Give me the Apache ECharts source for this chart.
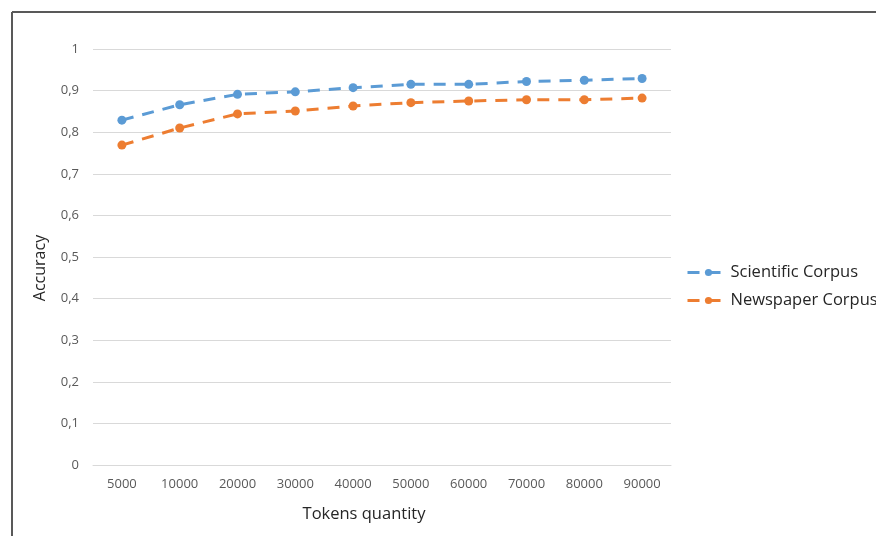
<!DOCTYPE html>
<html>
<head>
<meta charset="utf-8">
<script src="https://cdn.jsdelivr.net/npm/echarts@6/dist/echarts.min.js"></script>
<style>
html,body{margin:0;padding:0;background:#fff;}
#chart{width:876px;height:536px;}
</style>
</head>
<body>
<div id="chart"></div>
<script>
var categories = ['5000','10000','20000','30000','40000','50000','60000','70000','80000','90000'];
var scientific = [0.829, 0.866, 0.891, 0.897, 0.907, 0.915, 0.915, 0.922, 0.925, 0.929];
var newspaper = [0.769, 0.810, 0.844, 0.851, 0.863, 0.871, 0.875, 0.878, 0.878, 0.882];
var seriesNames = ['Scientific Corpus', 'Newspaper Corpus'];
var xName = 'Tokens quantity';
var yName = 'Accuracy';

var font = '"Open Sans", "Liberation Sans", sans-serif';
var chart = echarts.init(document.getElementById('chart'));
chart.setOption({
  animation: false,
  backgroundColor: '#fff',
  textStyle: {fontFamily: font},
  graphic: [
    {type: 'line', shape: {x1: 12, y1: 12, x2: 876, y2: 12}, style: {stroke: '#595959', lineWidth: 2}},
    {type: 'line', shape: {x1: 12, y1: 12, x2: 12, y2: 536}, style: {stroke: '#595959', lineWidth: 2}}
  ],
  grid: {left: 93, right: 205, top: 49, bottom: 71, containLabel: false},
  legend: {
    orient: 'vertical',
    left: 686,
    top: 264,
    padding: 0,
    itemWidth: 42,
    itemHeight: 9,
    itemGap: 11,
    lineStyle: {width: 3},
    textStyle: {fontSize: 16.5, color: '#262626', fontFamily: font, padding: [0,0,0,-4]},
    data: seriesNames
  },
  xAxis: {
    type: 'category',
    data: categories,
    boundaryGap: true,
    name: xName,
    nameLocation: 'middle',
    nameGap: 41,
    nameTextStyle: {fontSize: 16.5, color: '#262626', padding: [0, 36, 0, 0]},
    axisLine: {show: true, lineStyle: {color: '#D9D9D9', width: 1}},
    axisTick: {show: false},
    axisLabel: {color: '#595959', fontSize: 13, margin: 13}
  },
  yAxis: {
    type: 'value',
    min: 0,
    max: 1,
    interval: 0.1,
    name: yName,
    nameLocation: 'middle',
    nameGap: 45,
    nameTextStyle: {fontSize: 16, color: '#262626', padding: [0, 0, 0, -22]},
    axisLine: {show: false},
    axisTick: {show: false},
    splitLine: {lineStyle: {color: '#D9D9D9', width: 1}},
    axisLabel: {
      color: '#595959', fontSize: 13, margin: 14,
      formatter: function (v) { return String(Math.round(v * 10) / 10).replace('.', ','); }
    }
  },
  series: [
    {
      name: seriesNames[0], type: 'line', data: scientific,
      symbol: 'circle', symbolSize: 9,
      color: '#5B9BD5',
      lineStyle: {width: 3, type: [12, 9], color: '#5B9BD5'},
      itemStyle: {color: '#5B9BD5'}
    },
    {
      name: seriesNames[1], type: 'line', data: newspaper,
      symbol: 'circle', symbolSize: 9,
      color: '#ED7D31',
      lineStyle: {width: 3, type: [12, 9], color: '#ED7D31'},
      itemStyle: {color: '#ED7D31'}
    }
  ]
});
</script>
</body>
</html>
